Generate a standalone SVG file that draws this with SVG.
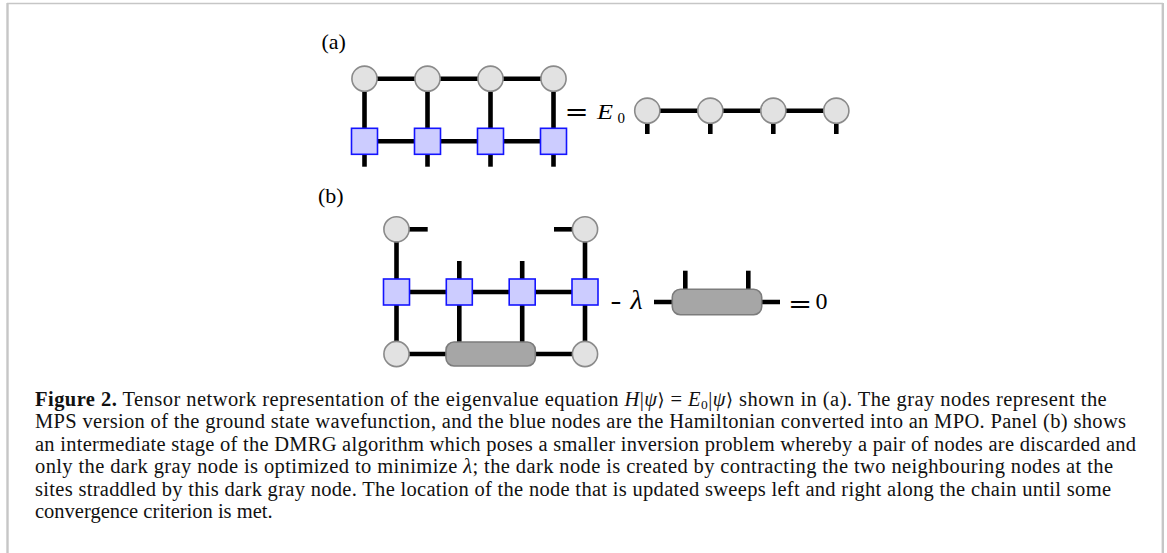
<svg xmlns="http://www.w3.org/2000/svg" width="1167" height="553" viewBox="0 0 1167 553">
  <style>
    .frame { stroke: #c6c6c6; fill: none; }
    .bond { stroke: #000; stroke-width: 4.6; fill: none; stroke-linecap: butt; }
    .mps { fill: #e2e2e2; stroke: #8a8a8a; stroke-width: 1.6; }
    .mpo { fill: #ccccff; stroke: #1414ff; stroke-width: 1.6; }
    .dark { fill: #a6a6a6; stroke: #7c7c7c; stroke-width: 1.6; }
    .lbl { font-family: "Liberation Serif", "DejaVu Serif", serif; fill: #000; }
    .sym { font-family: "DejaVu Serif", serif; fill: #000; }
    .it { font-style: italic; }
    .cap { font-family: "Liberation Serif", "DejaVu Serif", serif; font-size: 20.5px; fill: #111; }
    .br { font-family: "DejaVu Serif", serif; font-size: 18px; }
  </style>

  <!-- figure frame -->
  <line class="frame" x1="7" y1="3.5" x2="1163" y2="3.5" stroke-width="1.6"/>
  <line class="frame" x1="7.5" y1="3" x2="7.5" y2="553" stroke-width="2.4"/>
  <line class="frame" x1="1162.8" y1="3" x2="1162.8" y2="553" stroke-width="2.4"/>

  <!-- panel labels -->
  <text class="lbl" x="321.5" y="48.5" font-size="22">(a)</text>
  <text class="lbl" x="318" y="202.5" font-size="22">(b)</text>

  <!-- connectors (tensor bonds and open legs) -->
  <g id="connectors">
    <!-- (a) left side: MPS row, MPO row, rungs and physical legs -->
    <line class="bond" x1="364.5" y1="78.7" x2="553.5" y2="78.7"/>
    <line class="bond" x1="364.5" y1="141.3" x2="553.5" y2="141.3"/>
    <line class="bond" x1="364.5" y1="78.7" x2="364.5" y2="166.7"/>
    <line class="bond" x1="427.5" y1="78.7" x2="427.5" y2="166.7"/>
    <line class="bond" x1="490.5" y1="78.7" x2="490.5" y2="166.7"/>
    <line class="bond" x1="553.5" y1="78.7" x2="553.5" y2="166.7"/>
    <!-- (a) right side: MPS chain -->
    <line class="bond" x1="647.3" y1="110.7" x2="836.3" y2="110.7"/>
    <line class="bond" x1="647.3" y1="110.7" x2="647.3" y2="134"/>
    <line class="bond" x1="710.3" y1="110.7" x2="710.3" y2="134"/>
    <line class="bond" x1="773.3" y1="110.7" x2="773.3" y2="134"/>
    <line class="bond" x1="836.3" y1="110.7" x2="836.3" y2="134"/>
    <!-- (b) effective network -->
    <line class="bond" x1="396.5" y1="229.3" x2="427.7" y2="229.3"/>
    <line class="bond" x1="554" y1="229.3" x2="585" y2="229.3"/>
    <line class="bond" x1="396.5" y1="229.3" x2="396.5" y2="354"/>
    <line class="bond" x1="585" y1="229.3" x2="585" y2="354"/>
    <line class="bond" x1="396.5" y1="292" x2="585" y2="292"/>
    <line class="bond" x1="459.3" y1="261" x2="459.3" y2="354"/>
    <line class="bond" x1="522.2" y1="261" x2="522.2" y2="354"/>
    <line class="bond" x1="396.5" y1="354" x2="585" y2="354"/>
    <!-- (b) right-hand two-site tensor -->
    <line class="bond" x1="654" y1="302" x2="780" y2="302"/>
    <line class="bond" x1="685.3" y1="270.7" x2="685.3" y2="302"/>
    <line class="bond" x1="748.3" y1="270.7" x2="748.3" y2="302"/>
  </g>

  <!-- (a) MPS tensors -->
  <g id="a-psi-1"><circle class="mps" cx="364.5" cy="78.7" r="12.6"/></g>
  <g id="a-psi-2"><circle class="mps" cx="427.5" cy="78.7" r="12.6"/></g>
  <g id="a-psi-3"><circle class="mps" cx="490.5" cy="78.7" r="12.6"/></g>
  <g id="a-psi-4"><circle class="mps" cx="553.5" cy="78.7" r="12.6"/></g>
  <!-- (a) MPO tensors -->
  <g id="a-h-1"><rect class="mpo" x="351.5" y="128.3" width="26" height="26"/></g>
  <g id="a-h-2"><rect class="mpo" x="414.5" y="128.3" width="26" height="26"/></g>
  <g id="a-h-3"><rect class="mpo" x="477.5" y="128.3" width="26" height="26"/></g>
  <g id="a-h-4"><rect class="mpo" x="540.5" y="128.3" width="26" height="26"/></g>

  <!-- (a) equals E0 -->
  <text class="sym" transform="translate(564.5,119.7) scale(1.2,1)" font-size="24">=</text>
  <text class="lbl it" transform="translate(597,118.5) scale(1.25,1)" font-size="21">E</text>
  <text class="lbl" x="617.5" y="122.5" font-size="15">0</text>

  <!-- (a) right MPS chain -->
  <g id="a-rpsi-1"><circle class="mps" cx="647.3" cy="110.7" r="12.6"/></g>
  <g id="a-rpsi-2"><circle class="mps" cx="710.3" cy="110.7" r="12.6"/></g>
  <g id="a-rpsi-3"><circle class="mps" cx="773.3" cy="110.7" r="12.6"/></g>
  <g id="a-rpsi-4"><circle class="mps" cx="836.3" cy="110.7" r="12.6"/></g>

  <!-- (b) environment and MPO -->
  <g id="b-top-l"><circle class="mps" cx="396.5" cy="229.3" r="12.6"/></g>
  <g id="b-top-r"><circle class="mps" cx="585" cy="229.3" r="12.6"/></g>
  <g id="b-h-1"><rect class="mpo" x="383.5" y="279" width="26" height="26"/></g>
  <g id="b-h-2"><rect class="mpo" x="446.3" y="279" width="26" height="26"/></g>
  <g id="b-h-3"><rect class="mpo" x="509.2" y="279" width="26" height="26"/></g>
  <g id="b-h-4"><rect class="mpo" x="572" y="279" width="26" height="26"/></g>
  <g id="b-bot-l"><circle class="mps" cx="396.5" cy="354" r="12.6"/></g>
  <g id="b-bot-r"><circle class="mps" cx="585" cy="354" r="12.6"/></g>
  <g id="b-theta"><rect class="dark" x="446" y="342" width="89.3" height="24" rx="8" ry="8"/></g>

  <!-- (b) minus lambda times theta equals zero -->
  <text class="lbl" transform="translate(610.5,309) scale(1.3,1)" font-size="25">-</text>
  <text class="lbl it" x="630.5" y="308.5" font-size="28">λ</text>
  <g id="b-theta-r"><rect class="dark" x="672.3" y="289.3" width="89.4" height="25.4" rx="8" ry="8"/></g>
  <text class="sym" transform="translate(788,312.3) scale(1.2,1)" font-size="24">=</text>
  <text class="lbl" x="815.5" y="309" font-size="24">0</text>

  <!-- caption -->
  <text class="cap" x="35" y="405.5" textLength="1071.7" lengthAdjust="spacing"><tspan font-weight="bold">Figure 2.</tspan> Tensor network representation of the eigenvalue equation <tspan font-style="italic">H</tspan>|<tspan font-style="italic">ψ</tspan><tspan class="br">⟩</tspan> = <tspan font-style="italic">E</tspan><tspan font-size="13.5" dy="3">0</tspan><tspan dy="-3">|</tspan><tspan font-style="italic">ψ</tspan><tspan class="br">⟩</tspan> shown in (a). The gray nodes represent the</text>
  <text class="cap" x="35" y="428" textLength="1091" lengthAdjust="spacing">MPS version of the ground state wavefunction, and the blue nodes are the Hamiltonian converted into an MPO. Panel (b) shows</text>
  <text class="cap" x="35" y="450.5" textLength="1101" lengthAdjust="spacing">an intermediate stage of the DMRG algorithm which poses a smaller inversion problem whereby a pair of nodes are discarded and</text>
  <text class="cap" x="35" y="473" textLength="1078" lengthAdjust="spacing">only the dark gray node is optimized to minimize <tspan font-style="italic">λ</tspan>; the dark node is created by contracting the two neighbouring nodes at the</text>
  <text class="cap" x="35" y="495.5" textLength="1076" lengthAdjust="spacing">sites straddled by this dark gray node. The location of the node that is updated sweeps left and right along the chain until some</text>
  <text class="cap" x="35" y="518">convergence criterion is met.</text>
</svg>
